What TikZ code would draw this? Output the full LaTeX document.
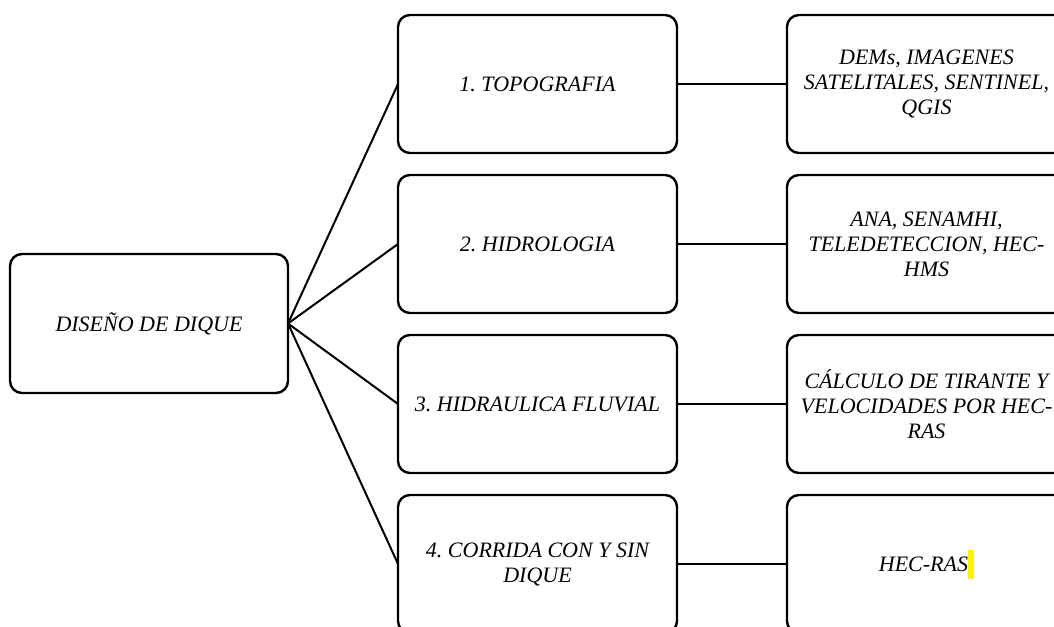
\documentclass[tikz,border=0pt]{standalone}
\usepackage{fontspec}
\setmainfont{Liberation Serif}
\usetikzlibrary{positioning}

\begin{document}
\frenchspacing
\begin{tikzpicture}[x=1pt, y=-1pt, node distance={22pt}, line width=2pt,
  main/.style = {draw, line width=2.4pt, rounded corners=12pt, outer sep=0pt,
    minimum width=279pt, minimum height=138pt, align=center, inner sep=4pt,
    font=\fontsize{22}{25}\selectfont\itshape}]
\clip (0,0) rectangle (1054,626);
\node[main, minimum width=278pt, minimum height=139pt] (dis) at (149,323.5) {DISEÑO DE DIQUE};
\node[main] (t1) at (537.5,84) {1. TOPOGRAFIA};
\node[main] (t2) [below=of t1] {2. HIDROLOGIA};
\node[main] (t3) [below=of t2] {3. HIDRAULICA FLUVIAL};
\node[main] (t4) [below=of t3] {4. CORRIDA CON Y SIN\\DIQUE};
\node[main] (r1) [right=110pt of t1] {DEMs, IMAGENES\\SATELITALES, SENTINEL,\\QGIS};
\node[main] (r2) [right=110pt of t2] {ANA, SENAMHI,\\TELEDETECCION, HEC-\\HMS};
\node[main] (r3) [right=110pt of t3] {CÁLCULO DE TIRANTE Y\\VELOCIDADES POR HEC-\\RAS};
\node[main] (r4) [right=110pt of t4] {HEC-RAS{\color{yellow}\rule[-7pt]{6pt}{29pt}}};
\draw[-] (dis.east) -- (t1.west);
\draw[-] (dis.east) -- (t2.west);
\draw[-] (dis.east) -- (t3.west);
\draw[-] (dis.east) -- (t4.west);
\draw[-] (t1) -- (r1);
\draw[-] (t2) -- (r2);
\draw[-] (t3) -- (r3);
\draw[-] (t4) -- (r4);
\end{tikzpicture}
\end{document}
